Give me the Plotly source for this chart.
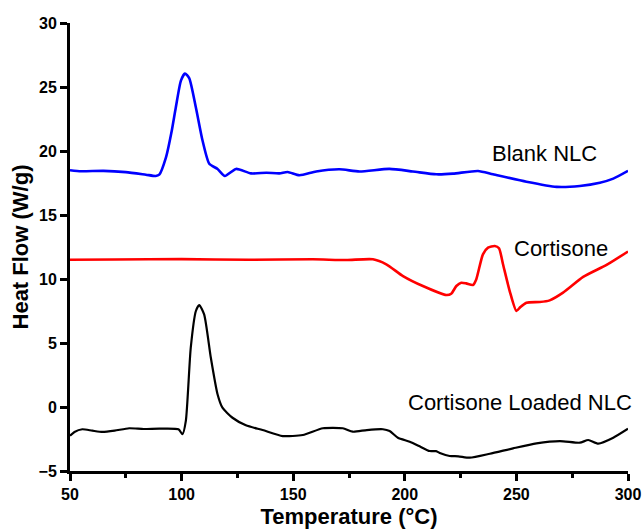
import plotly.graph_objects as go

# DSC thermograms: temperature (°C) vs heat flow (W/g)
blank_T = [50, 55, 65, 75, 84, 88.4, 90, 93, 95.5, 97.4, 99.7, 101.5, 103.4, 106.4, 109.4,
           112.4, 116.1, 119.4, 124.4, 131.1, 138, 143.8, 147.5, 152.8, 160.3, 170.7, 179.7,
           193.1, 203.6, 214.1, 221.6, 232.8, 239.5, 254.5, 268, 278.4, 287.4, 293.4, 300]
blank_HF = [18.5, 18.42, 18.45, 18.35, 18.15, 18.05, 18.15, 19.5, 21.5, 23.4, 25.5, 26.05,
            25.7, 23.4, 20.8, 19.0, 18.6, 18.05, 18.6, 18.25, 18.3, 18.25, 18.36, 18.1, 18.4,
            18.57, 18.4, 18.6, 18.4, 18.18, 18.23, 18.44, 18.18, 17.6, 17.2, 17.27, 17.52,
            17.84, 18.45]

cort_T = [50, 70, 100, 130, 158.8, 173.7, 185.7, 191.7, 199.2, 208.1, 218.6, 220.8, 223.1,
          225.3, 227.5, 230.5, 232, 235, 237.3, 240.3, 242.2, 244, 247, 250, 251.8, 254.5,
          260.5, 264.9, 270.9, 279.9, 290.4, 300]
cort_HF = [11.5, 11.52, 11.55, 11.5, 11.54, 11.48, 11.54, 11.15, 10.23, 9.45, 8.75, 8.85,
           9.45, 9.71, 9.66, 9.53, 9.97, 11.93, 12.45, 12.58, 12.4, 11.15, 9.06, 7.5, 7.81,
           8.15, 8.2, 8.33, 8.93, 10.16, 11.1, 12.15]

loaded_T = [50, 52, 55.5, 60, 64.5, 70, 76.5, 83, 90, 98.6, 100.4, 101.9, 104.1, 106.4,
            107.9, 110.1, 113.1, 116.1, 118.3, 122.8, 128.8, 136.3, 145.3, 154.3, 163.3,
            172.2, 176.7, 183, 190.2, 193.2, 196.9, 202.2, 207, 211.1, 214, 216, 220.1,
            224, 229.1, 238.1, 248.5, 259, 269.5, 278.4, 282.2, 286.7, 293.4, 300]
loaded_HF = [-2.25, -1.95, -1.74, -1.85, -1.95, -1.85, -1.66, -1.72, -1.69, -1.74, -2.13,
             -1.09, 4.63, 7.5, 7.97, 7.24, 3.85, 1.0, -0.05, -0.84, -1.43, -1.8, -2.27, -2.19,
             -1.66, -1.66, -1.93, -1.8, -1.74, -1.88, -2.4, -2.71, -3.1, -3.44, -3.45, -3.62,
             -3.83, -3.85, -3.96, -3.65, -3.23, -2.84, -2.66, -2.79, -2.58, -2.86, -2.4, -1.7]

x_ticks = [50, 100, 150, 200, 250, 300]
x_minor_ticks = [75, 125, 175, 225, 275]
y_ticks = [-5, 0, 5, 10, 15, 20, 25, 30]

labels = ["Blank NLC", "Cortisone", "Cortisone Loaded NLC"]
label_T = [262.7, 269.9, 251.5]
label_HF = [19.77, 12.42, 0.39]

FONT = "Arial, Liberation Sans, sans-serif"

fig = go.Figure()
for T, HF, color, w in [(blank_T, blank_HF, "#0000ff", 2.6),
                        (cort_T, cort_HF, "#ff0000", 2.6),
                        (loaded_T, loaded_HF, "#000000", 2.2)]:
    fig.add_trace(go.Scatter(x=T, y=HF, mode="lines",
                             line=dict(color=color, width=w, shape="spline", smoothing=0.6),
                             showlegend=False, hoverinfo="skip"))

for txt, tx, ty in zip(labels, label_T, label_HF):
    fig.add_annotation(x=tx, y=ty, text=txt, showarrow=False,
                       font=dict(family=FONT, size=22, color="black"))

fig.update_layout(
    template="simple_white",
    width=644, height=531,
    margin=dict(l=70, r=16, t=23, b=60),
    paper_bgcolor="white", plot_bgcolor="white",
)

fig.update_xaxes(
    range=[50, 300], tickmode="array", tickvals=x_ticks,
    showline=True, linecolor="black", linewidth=3, mirror=False,
    ticks="outside", ticklen=7, tickwidth=3, tickcolor="black",
    minor=dict(tickmode="array", tickvals=x_minor_ticks, ticks="outside",
               ticklen=4, tickwidth=3, tickcolor="black"),
    showgrid=False, zeroline=False, automargin=False,
    tickfont=dict(family=FONT, size=16, color="black", weight="bold"),
    title=dict(text="Temperature (°C)", standoff=7,
               font=dict(family=FONT, size=22, color="black", weight="bold")),
)
fig.update_yaxes(
    range=[-5, 30], tickmode="array", tickvals=y_ticks,
    showline=True, linecolor="black", linewidth=3, mirror=False,
    ticks="outside", ticklen=7, tickwidth=3, tickcolor="black",
    showgrid=False, zeroline=False, automargin=False,
    tickfont=dict(family=FONT, size=16, color="black", weight="bold"),
    title=dict(text="Heat Flow (W/g)", standoff=4,
               font=dict(family=FONT, size=22, color="black", weight="bold")),
)

fig.write_html("out.html")
